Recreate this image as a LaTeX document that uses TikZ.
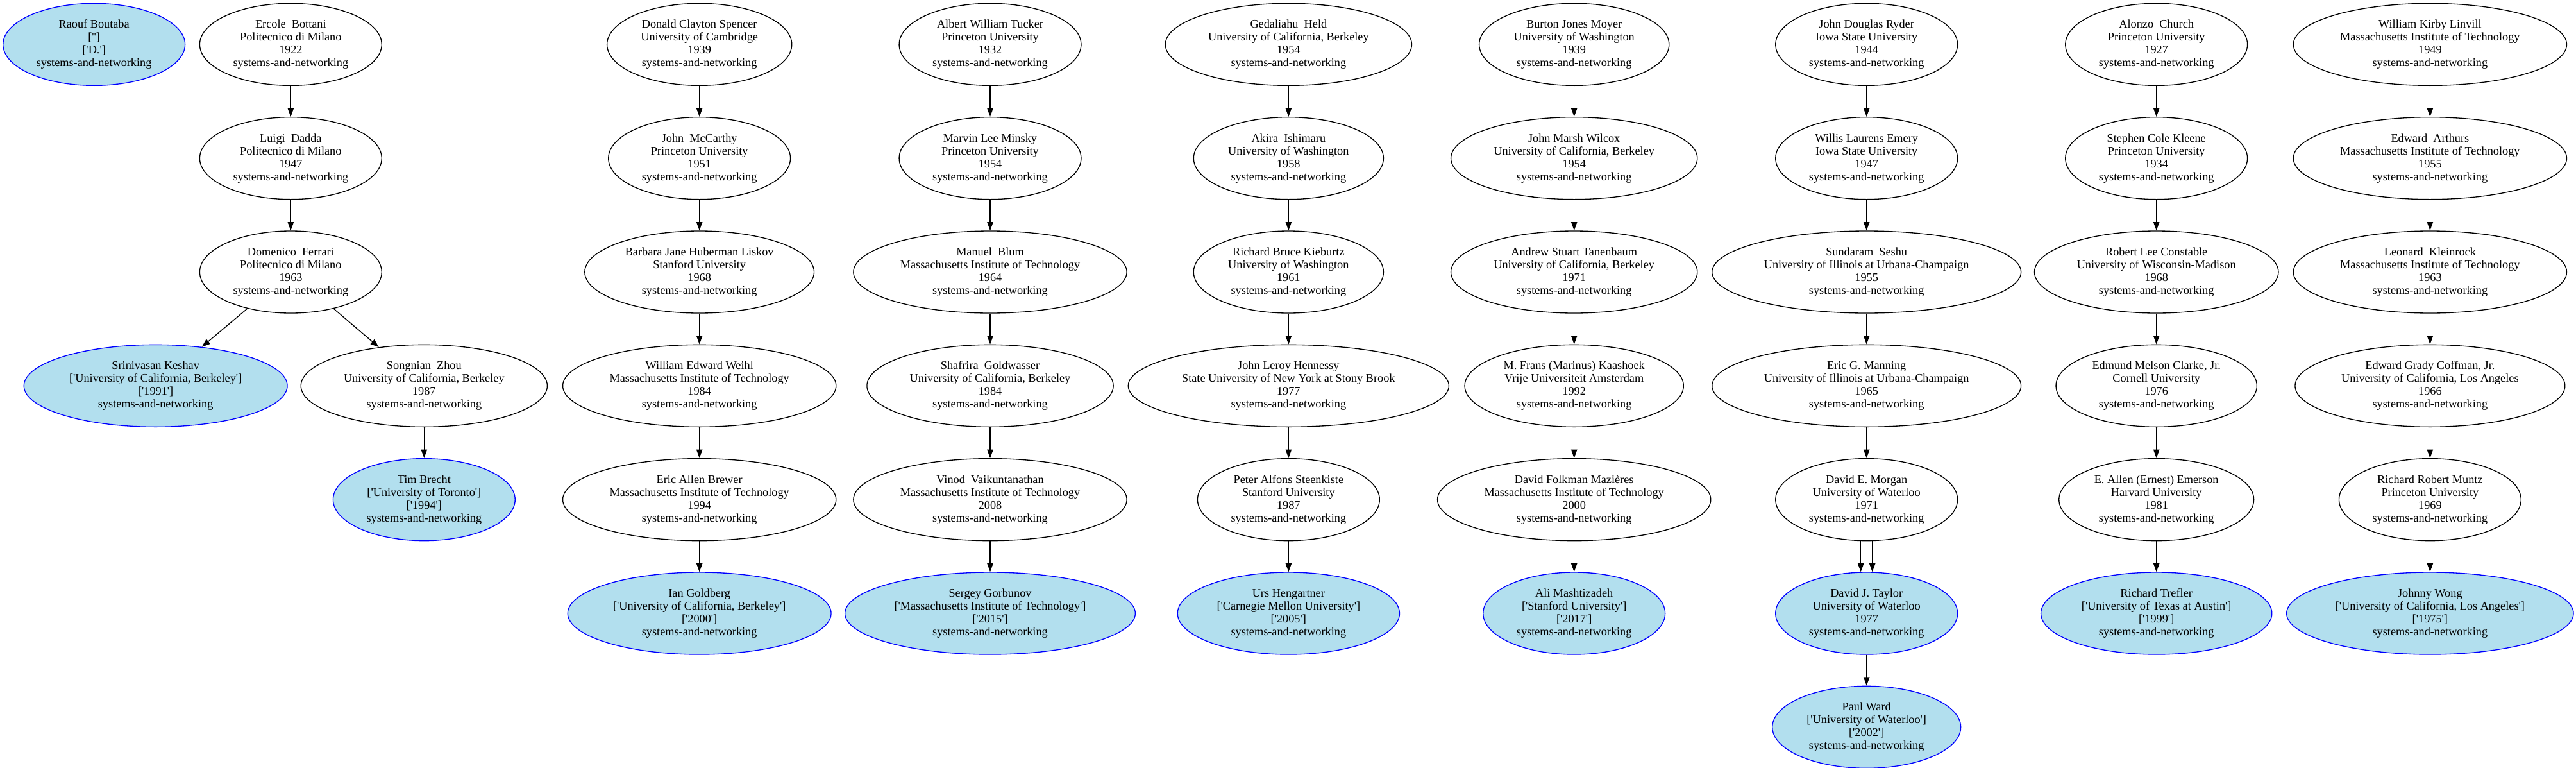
\documentclass[tikz,border=0pt]{standalone}
\usepackage{fontspec}
\usepackage{xcolor}
\newfontfamily\gvfont{Liberation Serif}
\usetikzlibrary{shapes,arrows,positioning,arrows.meta}
\definecolor{stufill}{HTML}{B2DFEE}
\newcommand\sq{\textquotesingle}

\begin{document}
\begin{tikzpicture}[x=1pt, y=1pt, node distance=36pt,
    >={Triangle[length=10pt, width=7pt]},
    prof block/.style={ellipse, draw, line width=1pt, minimum height=96pt, inner xsep=7.92pt, inner ysep=3.96pt, align=center, font=\gvfont\fontsize{13.7pt}{15pt}\selectfont},
    stu block/.style={prof block, draw=blue, fill=stufill},
    link/.style={->, line width=1pt}]
    \useasboundingbox (0,0) rectangle (3012.75,-897);

    \node[stu block] (A1) at (110,-52) {Raouf Boutaba\\{}[\sq\sq]\\{}[\sq D.\sq]\\systems-and-networking};

    \node[prof block] (B1) at (340,-52) {Ercole~~Bottani\\Politecnico di Milano\\1922\\systems-and-networking};
    \node[prof block] (B2) [below=of B1] {Luigi~~Dadda\\Politecnico di Milano\\1947\\systems-and-networking};
    \node[prof block] (B3) [below=of B2] {Domenico~~Ferrari\\Politecnico di Milano\\1963\\systems-and-networking};
    \node[stu block] (B4) [below=of B3, xshift=-158pt] {Srinivasan Keshav\\{}[\sq University of California, Berkeley\sq]\\{}[\sq 1991\sq]\\systems-and-networking};
    \node[prof block] (C4) [below=of B3, xshift=156pt] {Songnian~~Zhou\\University of California, Berkeley\\1987\\systems-and-networking};
    \node[stu block] (C5) [below=of C4] {Tim Brecht\\{}[\sq University of Toronto\sq]\\{}[\sq 1994\sq]\\systems-and-networking};

    \node[prof block] (D1) at (818,-52) {Donald Clayton Spencer\\University of Cambridge\\1939\\systems-and-networking};
    \node[prof block] (D2) [below=of D1] {John~~McCarthy\\Princeton University\\1951\\systems-and-networking};
    \node[prof block] (D3) [below=of D2] {Barbara Jane Huberman Liskov\\Stanford University\\1968\\systems-and-networking};
    \node[prof block] (D4) [below=of D3] {William Edward Weihl\\Massachusetts Institute of Technology\\1984\\systems-and-networking};
    \node[prof block] (D5) [below=of D4] {Eric Allen Brewer\\Massachusetts Institute of Technology\\1994\\systems-and-networking};
    \node[stu block] (D6) [below=of D5] {Ian Goldberg\\{}[\sq University of California, Berkeley\sq]\\{}[\sq 2000\sq]\\systems-and-networking};

    \node[prof block] (E1) at (1158,-52) {Albert William Tucker\\Princeton University\\1932\\systems-and-networking};
    \node[prof block] (E2) [below=of E1] {Marvin Lee Minsky\\Princeton University\\1954\\systems-and-networking};
    \node[prof block] (E3) [below=of E2] {Manuel~~Blum\\Massachusetts Institute of Technology\\1964\\systems-and-networking};
    \node[prof block] (E4) [below=of E3] {Shafrira~~Goldwasser\\University of California, Berkeley\\1984\\systems-and-networking};
    \node[prof block] (E5) [below=of E4] {Vinod~~Vaikuntanathan\\Massachusetts Institute of Technology\\2008\\systems-and-networking};
    \node[stu block] (E6) [below=of E5] {Sergey Gorbunov\\{}[\sq Massachusetts Institute of Technology\sq]\\{}[\sq 2015\sq]\\systems-and-networking};

    \node[prof block] (F1) at (1507,-52) {Gedaliahu~~Held\\University of California, Berkeley\\1954\\systems-and-networking};
    \node[prof block] (F2) [below=of F1] {Akira~~Ishimaru\\University of Washington\\1958\\systems-and-networking};
    \node[prof block] (F3) [below=of F2] {Richard Bruce Kieburtz\\University of Washington\\1961\\systems-and-networking};
    \node[prof block] (F4) [below=of F3] {John Leroy Hennessy\\State University of New York at Stony Brook\\1977\\systems-and-networking};
    \node[prof block] (F5) [below=of F4] {Peter Alfons Steenkiste\\Stanford University\\1987\\systems-and-networking};
    \node[stu block] (F6) [below=of F5] {Urs Hengartner\\{}[\sq Carnegie Mellon University\sq]\\{}[\sq 2005\sq]\\systems-and-networking};

    \node[prof block] (G1) at (1841,-52) {Burton Jones Moyer\\University of Washington\\1939\\systems-and-networking};
    \node[prof block] (G2) [below=of G1] {John Marsh Wilcox\\University of California, Berkeley\\1954\\systems-and-networking};
    \node[prof block] (G3) [below=of G2] {Andrew Stuart Tanenbaum\\University of California, Berkeley\\1971\\systems-and-networking};
    \node[prof block] (G4) [below=of G3] {M. Frans (Marinus) Kaashoek\\Vrije Universiteit Amsterdam\\1992\\systems-and-networking};
    \node[prof block] (G5) [below=of G4] {David Folkman Mazières\\Massachusetts Institute of Technology\\2000\\systems-and-networking};
    \node[stu block] (G6) [below=of G5] {Ali Mashtizadeh\\{}[\sq Stanford University\sq]\\{}[\sq 2017\sq]\\systems-and-networking};

    \node[prof block] (H1) at (2183,-52) {John Douglas Ryder\\Iowa State University\\1944\\systems-and-networking};
    \node[prof block] (H2) [below=of H1] {Willis Laurens Emery\\Iowa State University\\1947\\systems-and-networking};
    \node[prof block] (H3) [below=of H2] {Sundaram~~Seshu\\University of Illinois at Urbana-Champaign\\1955\\systems-and-networking};
    \node[prof block] (H4) [below=of H3] {Eric G. Manning\\University of Illinois at Urbana-Champaign\\1965\\systems-and-networking};
    \node[prof block] (H5) [below=of H4] {David E. Morgan\\University of Waterloo\\1971\\systems-and-networking};
    \node[stu block] (H6) [below=of H5] {David J. Taylor\\University of Waterloo\\1977\\systems-and-networking};
    \node[stu block] (H7) [below=of H6] {Paul Ward\\{}[\sq University of Waterloo\sq]\\{}[\sq 2002\sq]\\systems-and-networking};

    \node[prof block] (I1) at (2522,-52) {Alonzo~~Church\\Princeton University\\1927\\systems-and-networking};
    \node[prof block] (I2) [below=of I1] {Stephen Cole Kleene\\Princeton University\\1934\\systems-and-networking};
    \node[prof block] (I3) [below=of I2] {Robert Lee Constable\\University of Wisconsin-Madison\\1968\\systems-and-networking};
    \node[prof block] (I4) [below=of I3] {Edmund Melson Clarke, Jr.\\Cornell University\\1976\\systems-and-networking};
    \node[prof block] (I5) [below=of I4] {E. Allen (Ernest) Emerson\\Harvard University\\1981\\systems-and-networking};
    \node[stu block] (I6) [below=of I5] {Richard Trefler\\{}[\sq University of Texas at Austin\sq]\\{}[\sq 1999\sq]\\systems-and-networking};

    \node[prof block] (J1) at (2842,-52) {William Kirby Linvill\\Massachusetts Institute of Technology\\1949\\systems-and-networking};
    \node[prof block] (J2) [below=of J1] {Edward~~Arthurs\\Massachusetts Institute of Technology\\1955\\systems-and-networking};
    \node[prof block] (J3) [below=of J2] {Leonard~~Kleinrock\\Massachusetts Institute of Technology\\1963\\systems-and-networking};
    \node[prof block] (J4) [below=of J3] {Edward Grady Coffman, Jr.\\University of California, Los Angeles\\1966\\systems-and-networking};
    \node[prof block] (J5) [below=of J4] {Richard Robert Muntz\\Princeton University\\1969\\systems-and-networking};
    \node[stu block] (J6) [below=of J5] {Johnny Wong\\{}[\sq University of California, Los Angeles\sq]\\{}[\sq 1975\sq]\\systems-and-networking};

    \draw[link] (B1) -- (B2);
    \draw[link] (B2) -- (B3);
    \draw[link] (B3) -- (B4);
    \draw[link] (B3) -- (C4);
    \draw[link] (C4) -- (C5);
    \draw[link] (D1) -- (D2);
    \draw[link] (D2) -- (D3);
    \draw[link] (D3) -- (D4);
    \draw[link] (D4) -- (D5);
    \draw[link] (D5) -- (D6);
    \draw[link] (E1) -- (E2);
    \draw[link] (E2) -- (E3);
    \draw[link] (E3) -- (E4);
    \draw[link] (E4) -- (E5);
    \draw[link] (E5) -- (E6);
    \draw[link] (F1) -- (F2);
    \draw[link] (F2) -- (F3);
    \draw[link] (F3) -- (F4);
    \draw[link] (F4) -- (F5);
    \draw[link] (F5) -- (F6);
    \draw[link] (G1) -- (G2);
    \draw[link] (G2) -- (G3);
    \draw[link] (G3) -- (G4);
    \draw[link] (G4) -- (G5);
    \draw[link] (G5) -- (G6);
    \draw[link] (H1) -- (H2);
    \draw[link] (H2) -- (H3);
    \draw[link] (H3) -- (H4);
    \draw[link] (H4) -- (H5);
    \draw[link] ([xshift=-6.75pt]H5.south) -- ([xshift=-6.75pt]H6.north);
    \draw[link] ([xshift=6.75pt]H5.south) -- ([xshift=6.75pt]H6.north);
    \draw[link] (H6) -- (H7);
    \draw[link] (I1) -- (I2);
    \draw[link] (I2) -- (I3);
    \draw[link] (I3) -- (I4);
    \draw[link] (I4) -- (I5);
    \draw[link] (I5) -- (I6);
    \draw[link] (J1) -- (J2);
    \draw[link] (J2) -- (J3);
    \draw[link] (J3) -- (J4);
    \draw[link] (J4) -- (J5);
    \draw[link] (J5) -- (J6);
\end{tikzpicture}
\end{document}
